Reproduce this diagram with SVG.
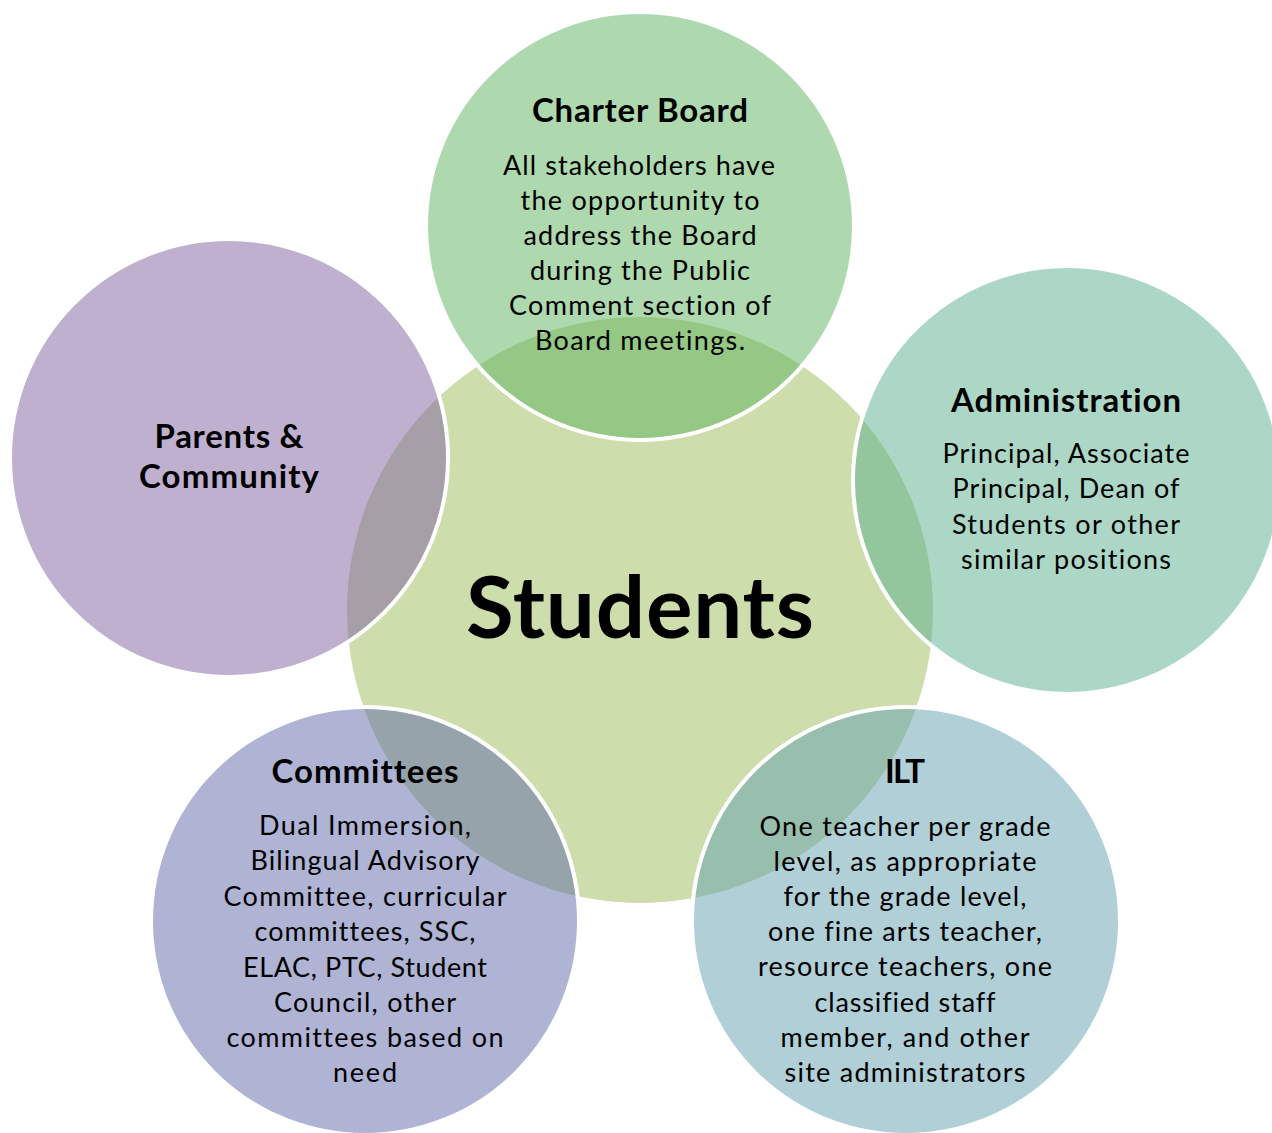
<svg xmlns="http://www.w3.org/2000/svg" width="1272" height="1133" viewBox="0 0 1272 1133">
<style>
  .bubble { stroke: #FFFFFF; stroke-width: 4; fill-opacity: 0.5; }
  text { font-variant-ligatures: none; font-feature-settings: "liga" 0, "clig" 0; }
  .title { font-family: Lato, "Open Sans", "Liberation Sans", sans-serif; font-weight: bold; font-size: 33px; fill: #000000; text-anchor: middle; }
  .body { font-family: Lato, "Open Sans", "Liberation Sans", sans-serif; font-size: 27px; fill: #000000; text-anchor: middle; }
  .center { font-family: Lato, "Open Sans", "Liberation Sans", sans-serif; font-weight: bold; font-size: 87px; fill: #000000; text-anchor: middle; }
</style>
<rect x="0" y="0" width="1272" height="1133" fill="#FFFFFF"/>

<g id="students">
  <circle cx="640" cy="610" r="293" fill="#CDDDAC"/>
</g>

<g id="charter-board">
  <circle class="bubble" cx="640" cy="226" r="214" fill="#5DB35D"/>
  <text class="title" x="640" y="122" textLength="216">Charter Board</text>
  <text class="body" x="639" y="175" textLength="272">All stakeholders have</text>
  <text class="body" x="640" y="210" textLength="239">the opportunity to</text>
  <text class="body" x="640" y="245" textLength="233">address the Board</text>
  <text class="body" x="640" y="280" textLength="220">during the Public</text>
  <text class="body" x="640" y="315" textLength="262">Comment section of</text>
  <text class="body" x="640" y="350" textLength="210">Board meetings.</text>
</g>

<g id="parents-community">
  <circle class="bubble" cx="229" cy="458" r="219" fill="#7F61A1"/>
  <text class="title" x="229" y="448" textLength="149">Parents &amp;</text>
  <text class="title" x="229" y="488" textLength="180">Community</text>
</g>

<g id="administration">
  <circle class="bubble" cx="1067" cy="480" r="214" fill="#59AF8D"/>
  <text class="title" x="1066" y="412" textLength="230">Administration</text>
  <text class="body" x="1066" y="463" textLength="247">Principal, Associate</text>
  <text class="body" x="1066" y="498" textLength="227">Principal, Dean of</text>
  <text class="body" x="1066" y="534" textLength="228">Students or other</text>
  <text class="body" x="1066" y="569" textLength="210">similar positions</text>
</g>

<g id="committees">
  <circle class="bubble" cx="365" cy="921" r="214" fill="#6169A9"/>
  <text class="title" x="365" y="783" textLength="187">Committees</text>
  <text class="body" x="365" y="835" textLength="212">Dual Immersion,</text>
  <text class="body" x="365" y="870" textLength="229">Bilingual Advisory</text>
  <text class="body" x="365" y="906" textLength="283">Committee, curricular</text>
  <text class="body" x="365" y="941" textLength="221">committees, SSC,</text>
  <text class="body" x="365" y="977" textLength="244">ELAC, PTC, Student</text>
  <text class="body" x="365" y="1012" textLength="182">Council, other</text>
  <text class="body" x="365" y="1047" textLength="277">committees based on</text>
  <text class="body" x="365" y="1082" textLength="64">need</text>
</g>

<g id="ilt">
  <circle class="bubble" cx="906" cy="921" r="214" fill="#639FAD"/>
  <text class="title" x="905" y="783" textLength="40">ILT</text>
  <text class="body" x="905" y="836" textLength="291">One teacher per grade</text>
  <text class="body" x="905" y="871" textLength="263">level, as appropriate</text>
  <text class="body" x="905" y="906" textLength="243">for the grade level,</text>
  <text class="body" x="905" y="941" textLength="274">one fine arts teacher,</text>
  <text class="body" x="905" y="976" textLength="294">resource teachers, one</text>
  <text class="body" x="905" y="1012" textLength="181">classified staff</text>
  <text class="body" x="905" y="1047" textLength="249">member, and other</text>
  <text class="body" x="905" y="1082" textLength="241">site administrators</text>
</g>

<g id="students-label">
  <text class="center" x="640" y="638" textLength="348">Students</text>
</g>
</svg>
